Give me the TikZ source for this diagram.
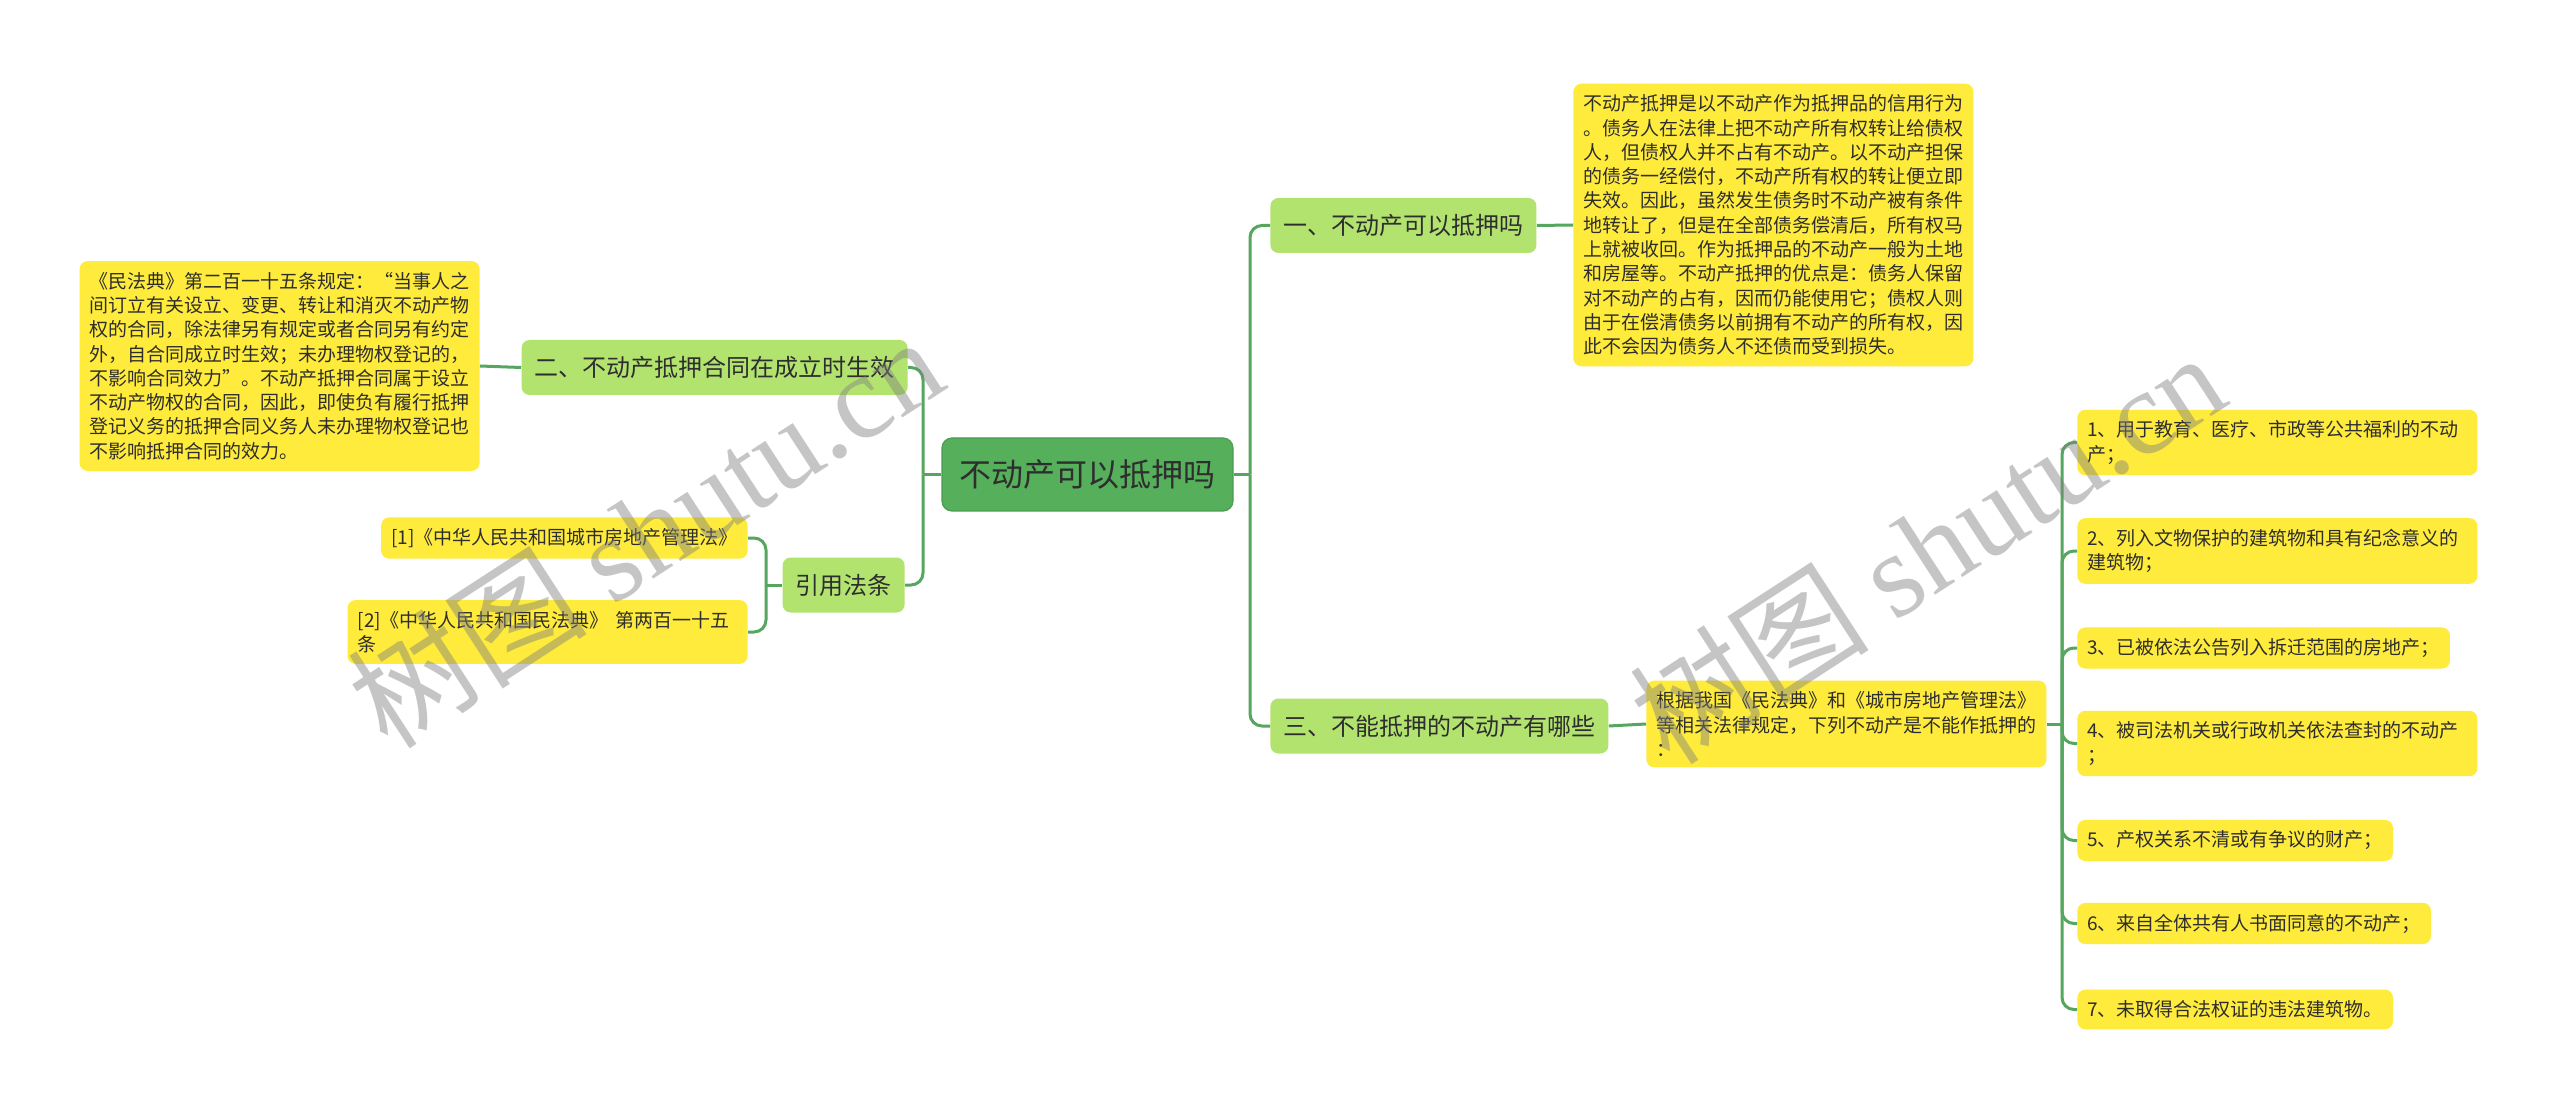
\documentclass[tikz,border=0pt]{standalone}
\usepackage{fontspec}
\setmainfont{Noto Sans CJK SC}
\newfontfamily\wmlatin{Liberation Serif}
\usepackage{tikz}
\usetikzlibrary{positioning}
\definecolor{topicgreen}{HTML}{55AF5B}
\definecolor{topicedge}{HTML}{4A9E50}
\definecolor{subgreen}{HTML}{B3E36F}
\definecolor{leafyellow}{HTML}{FFEB3B}
\definecolor{linkgreen}{HTML}{57A65F}
\definecolor{inkdark}{HTML}{2E2E2E}
\tikzset{
  topic/.style={rectangle, rounded corners=5pt, fill=topicgreen, draw=topicedge,
    line width=0.6pt, minimum width=145.5pt, minimum height=36.5pt,
    font=\fontsize{16pt}{19pt}\selectfont, text=inkdark},
  subtopic/.style={rectangle, rounded corners=4pt, fill=subgreen, minimum height=27.5pt,
    inner xsep=6.5pt, font=\fontsize{12pt}{14pt}\selectfont, text=inkdark},
  leaf/.style={rectangle, rounded corners=4pt, fill=leafyellow, align=left,
    inner xsep=5pt, inner ysep=5.5pt, font=\fontsize{9.5pt}{12.15pt}\selectfont, text=inkdark},
  longtext/.style={text width=190pt},
  link/.style={draw=linkgreen, line width=1.5pt, rounded corners=6pt},
  wmark/.style={rotate=33, text=black!50, text opacity=0.45,
    font=\fontsize{60pt}{60pt}\selectfont},
}

\begin{document}
\begin{tikzpicture}[x=0.5pt, y=-0.5pt]
  \path[fill=white, use as bounding box] (0,0) rectangle (2560,1112);

  % Root
  \node[topic] (top) at (1087.5,474.5) {不动产可以抵押吗};

  % Right branches
  \node[subtopic, anchor=west] (b1) at (1270,225.5) {一、不动产可以抵押吗};
  \node[subtopic, anchor=west] (b3) at (1270,726) {三、不能抵押的不动产有哪些};

  % Left branches
  \node[subtopic, anchor=east] (b2) at (908,367.5) {二、不动产抵押合同在成立时生效};
  \node[subtopic, anchor=east] (b4) at (905,585) {引用法条};

  % Texts of the branches
  \node[leaf, longtext, anchor=west] (txt1) at (1573,225) {不动产抵押是以不动产作为抵押品的信用行为\\。债务人在法律上把不动产所有权转让给债权\\人，但债权人并不占有不动产。以不动产担保\\的债务一经偿付，不动产所有权的转让便立即\\失效。因此，虽然发生债务时不动产被有条件\\地转让了，但是在全部债务偿清后，所有权马\\上就被收回。作为抵押品的不动产一般为土地\\和房屋等。不动产抵押的优点是：债务人保留\\对不动产的占有，因而仍能使用它；债权人则\\由于在偿清债务以前拥有不动产的所有权，因\\此不会因为债务人不还债而受到损失。};
  \node[leaf, longtext, anchor=east] (txt2) at (480,366) {《民法典》第二百一十五条规定：“当事人之\\间订立有关设立、变更、转让和消灭不动产物\\权的合同，除法律另有规定或者合同另有约定\\外，自合同成立时生效；未办理物权登记的，\\不影响合同效力”。不动产抵押合同属于设立\\不动产物权的合同，因此，即使负有履行抵押\\登记义务的抵押合同义务人未办理物权登记也\\不影响抵押合同的效力。};
  \node[leaf, longtext, anchor=west] (intro) at (1646,724) {根据我国《民法典》和《城市房地产管理法》\\等相关法律规定，下列不动产是不能作抵押的\\：};

  % References
  \node[leaf, anchor=east] (ref1) at (748,538) {[1]《中华人民共和国城市房地产管理法》};
  \node[leaf, longtext, anchor=east] (ref2) at (748,632) {[2]《中华人民共和国民法典》 第两百一十五\\条};

  % Items
  \node[leaf, longtext, anchor=west] (it1) at (2077,442.5) {1、用于教育、医疗、市政等公共福利的不动\\产；};
  \node[leaf, longtext, anchor=west] (it2) at (2077,551) {2、列入文物保护的建筑物和具有纪念意义的\\建筑物；};
  \node[leaf, anchor=west] (it3) at (2077,648) {3、已被依法公告列入拆迁范围的房地产；};
  \node[leaf, longtext, anchor=west] (it4) at (2077,743.5) {4、被司法机关或行政机关依法查封的不动产\\；};
  \node[leaf, anchor=west] (it5) at (2077,840.5) {5、产权关系不清或有争议的财产；};
  \node[leaf, anchor=west] (it6) at (2077,923.5) {6、来自全体共有人书面同意的不动产；};
  \node[leaf, anchor=west] (it7) at (2077,1009.5) {7、未取得合法权证的违法建筑物。};

  % Trunks
  \coordinate (rt) at (1250,474.5);
  \coordinate (lt) at (923,474.5);
  \coordinate (reft) at (766,585);
  \coordinate (itt) at (2062,724);

  \draw[link] (top.east) -- (rt);
  \draw[link] (rt) |- (b1.west);
  \draw[link] (rt) |- (b3.west);
  \draw[link] (top.west) -- (lt);
  \draw[link] (lt) |- (b2.east);
  \draw[link] (lt) |- (b4.east);
  \draw[link] (b1.east) -- (txt1.west);
  \draw[link] (b2.west) -- (txt2.east);
  \draw[link] (b3.east) -- (intro.west);
  \draw[link] (b4.west) -- (reft);
  \draw[link] (reft) |- (ref1.east);
  \draw[link] (reft) |- (ref2.east);
  \draw[link] (intro.east) -- (itt);
  \foreach \i in {1,...,7}
    \draw[link] (itt) |- (it\i.west);

  % Watermarks
  \node[wmark] (wm1) at (645,531) {树图 {\wmlatin shutu.cn}};
  \node[wmark] (wm2) at (1927,547) {树图 {\wmlatin shutu.cn}};
\end{tikzpicture}
\end{document}
